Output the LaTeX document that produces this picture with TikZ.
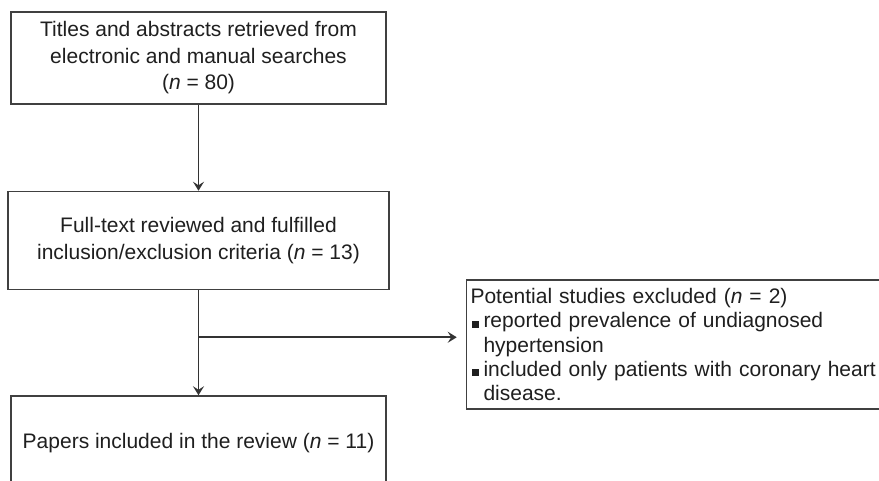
\documentclass[tikz,border=0pt]{standalone}
\usepackage{fontspec}
\setmainfont{Liberation Sans}
\usetikzlibrary{positioning,arrows.meta}

\newcommand{\sqitem}{\hspace*{1.5pt}\rule{7pt}{7pt}\hspace*{4.5pt}}
\newcommand{\sqgap}{\hspace*{13pt}}

\begin{document}
\begin{tikzpicture}

			\tikzstyle{stage}=[fill=white,draw=black!75,line width=1.5pt,
				text=black!88,font=\fontsize{21}{26.5}\selectfont,
				minimum width=375pt,minimum height=92pt,
				align=center]
			\tikzstyle{sidebox}=[fill=white,draw=black!75,line width=1.5pt,
				text=black!88,font=\fontsize{21}{24.3}\selectfont,
				text width=412pt,minimum height=129pt,inner xsep=4pt,
				align=left]
			\tikzstyle{flow}=[draw=black!80,line width=1.6pt,
				-{Stealth[length=9pt,width=11pt,inset=3.5pt]}]

			\useasboundingbox (0,0) rectangle (879pt,-480pt);

			\node[stage]	(search)	at (198.5pt,-58pt)
				{Titles and abstracts retrieved from\\electronic and manual searches\\(\textit{n} = 80)};
			\node[stage,minimum width=381pt,minimum height=98pt,below=86pt of search]	(full)
				{Full-text reviewed and fulfilled\\inclusion/exclusion criteria (\textit{n} = 13)};
			\node[stage,minimum height=94pt,below=105pt of full]	(papers)
				{Papers included in the review (\textit{n} = 11)};
			\node[sidebox,below right=-11pt and 76pt of full]	(excl)
				{Potential studies excluded (\textit{n} = 2)\\
				\sqitem reported prevalence of undiagnosed\\
				\sqgap hypertension\\
				\sqitem included only patients with coronary heart\\
				\sqgap disease.};

			\coordinate[below=47pt of full.south]	(split);

			\draw[flow]	(search)  -- (full);
			\draw[flow]	(full)  -- (papers);
			\draw[flow,shorten >=9pt]	(split)  -- (split -| excl.west);

\end{tikzpicture}
\end{document}
